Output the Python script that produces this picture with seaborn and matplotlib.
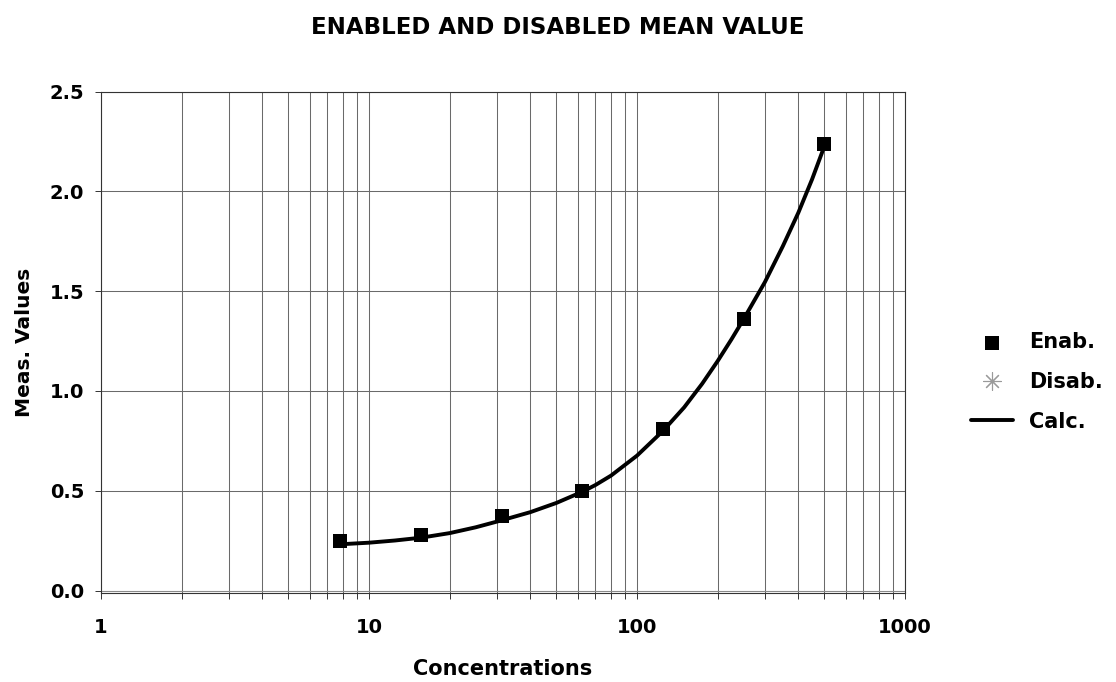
import matplotlib
matplotlib.use("Agg")
import matplotlib.pyplot as plt
import seaborn as sns
import pandas as pd
from matplotlib.ticker import LogLocator, FixedLocator, FixedFormatter, NullFormatter

# ---- data ----
enab_x = [7.8125, 15.625, 31.25, 62.5, 125, 250, 500]
enab_y = [0.246, 0.279, 0.376, 0.500, 0.807, 1.361, 2.236]

disab_x = []
disab_y = []

calc_x = [7.8125, 10, 12.5, 15.625, 20, 25, 31.25, 40, 50, 62.5, 70, 80, 100,
          125, 150, 175, 200, 225, 250, 300, 350, 400, 450, 500]
calc_y = [0.232, 0.240, 0.251, 0.265, 0.288, 0.317, 0.352, 0.393, 0.439, 0.495,
          0.529, 0.576, 0.676, 0.800, 0.918, 1.036, 1.150, 1.258, 1.360, 1.545,
          1.725, 1.893, 2.060, 2.225]

x_ticks = [1, 10, 100, 1000]
x_ticklabels = ["1", "10", "100", "1000"]
y_ticks = [0.0, 0.5, 1.0, 1.5, 2.0, 2.5]
y_ticklabels = ["0.0", "0.5", "1.0", "1.5", "2.0", "2.5"]

title = "ENABLED AND DISABLED MEAN VALUE"
xlabel = "Concentrations"
ylabel = "Meas. Values"
labels = ["Enab.", "Disab.", "Calc."]

# ---- style ----
sns.set_theme(style="white")
plt.rcParams["font.family"] = ["DejaVu Sans"]
plt.rcParams["font.weight"] = "bold"
plt.rcParams["text.color"] = "black"
plt.rcParams["axes.labelcolor"] = "black"
plt.rcParams["xtick.color"] = "black"
plt.rcParams["ytick.color"] = "black"

fig = plt.figure(figsize=(11.16, 6.82), dpi=100)
ax = fig.add_axes([101 / 1116, 1 - 593 / 682, (905 - 101) / 1116, (593 - 91.5) / 682])

df_calc = pd.DataFrame({"x": calc_x, "y": calc_y})
df_enab = pd.DataFrame({"x": enab_x, "y": enab_y})

sns.lineplot(data=df_calc, x="x", y="y", ax=ax, color="black", linewidth=2.8,
             sort=False, estimator=None, zorder=3, label=labels[2])
sns.scatterplot(data=df_enab, x="x", y="y", ax=ax, color="black", marker="s",
                s=105, linewidth=0, zorder=4, label=labels[0])
ax.plot(disab_x, disab_y, ls="none", marker=(8, 2, 0), markersize=13,
        color="#9a9a9a", markeredgewidth=0.8, label=labels[1])

ax.set_xscale("log")
ax.set_xlim(1, 1000)
ax.set_ylim(-0.012, 2.5)

ax.xaxis.set_major_locator(FixedLocator(x_ticks))
ax.xaxis.set_major_formatter(FixedFormatter(x_ticklabels))
ax.xaxis.set_minor_locator(LogLocator(base=10, subs=range(2, 10)))
ax.xaxis.set_minor_formatter(NullFormatter())
ax.yaxis.set_major_locator(FixedLocator(y_ticks))
ax.yaxis.set_major_formatter(FixedFormatter(y_ticklabels))

gcol = "#6a6a6a"
ax.grid(True, which="major", axis="both", color=gcol, linewidth=0.75)
ax.grid(True, which="minor", axis="x", color=gcol, linewidth=0.75)
ax.axhline(0, color="#8a8a8a", linewidth=0.75, zorder=1)

for s in ax.spines.values():
    s.set_visible(True)
    s.set_color("#333333")
    s.set_linewidth(0.8)

ax.tick_params(axis="x", which="both", direction="out", length=4, width=0.7,
               color="#333333", bottom=True, labelsize=14, pad=14)
ax.tick_params(axis="y", which="major", direction="out", length=4, width=0.7,
               color="#333333", left=True, labelsize=14, pad=8)
for t in ax.get_xticklabels() + ax.get_yticklabels():
    t.set_fontweight("bold")

ax.set_xlabel(xlabel, fontsize=15, fontweight="bold", labelpad=16)
ax.set_ylabel(ylabel, fontsize=14.5, fontweight="bold", labelpad=11)

fig.suptitle(title, x=0.5, y=1 - 27 / 682, va="center", fontsize=16.5,
             fontweight="bold")

h, l = ax.get_legend_handles_labels()
order = [l.index(n) for n in labels]
ax.legend([h[i] for i in order], [l[i] for i in order],
          loc="center left", bbox_to_anchor=(971 / 1116, 1 - 382 / 682),
          bbox_transform=fig.transFigure, frameon=False,
          prop={"weight": "bold", "size": 15}, borderpad=0, borderaxespad=0,
          handlelength=2.0, handletextpad=0.8, labelspacing=0.95)

fig.savefig("out.png", dpi=100)
